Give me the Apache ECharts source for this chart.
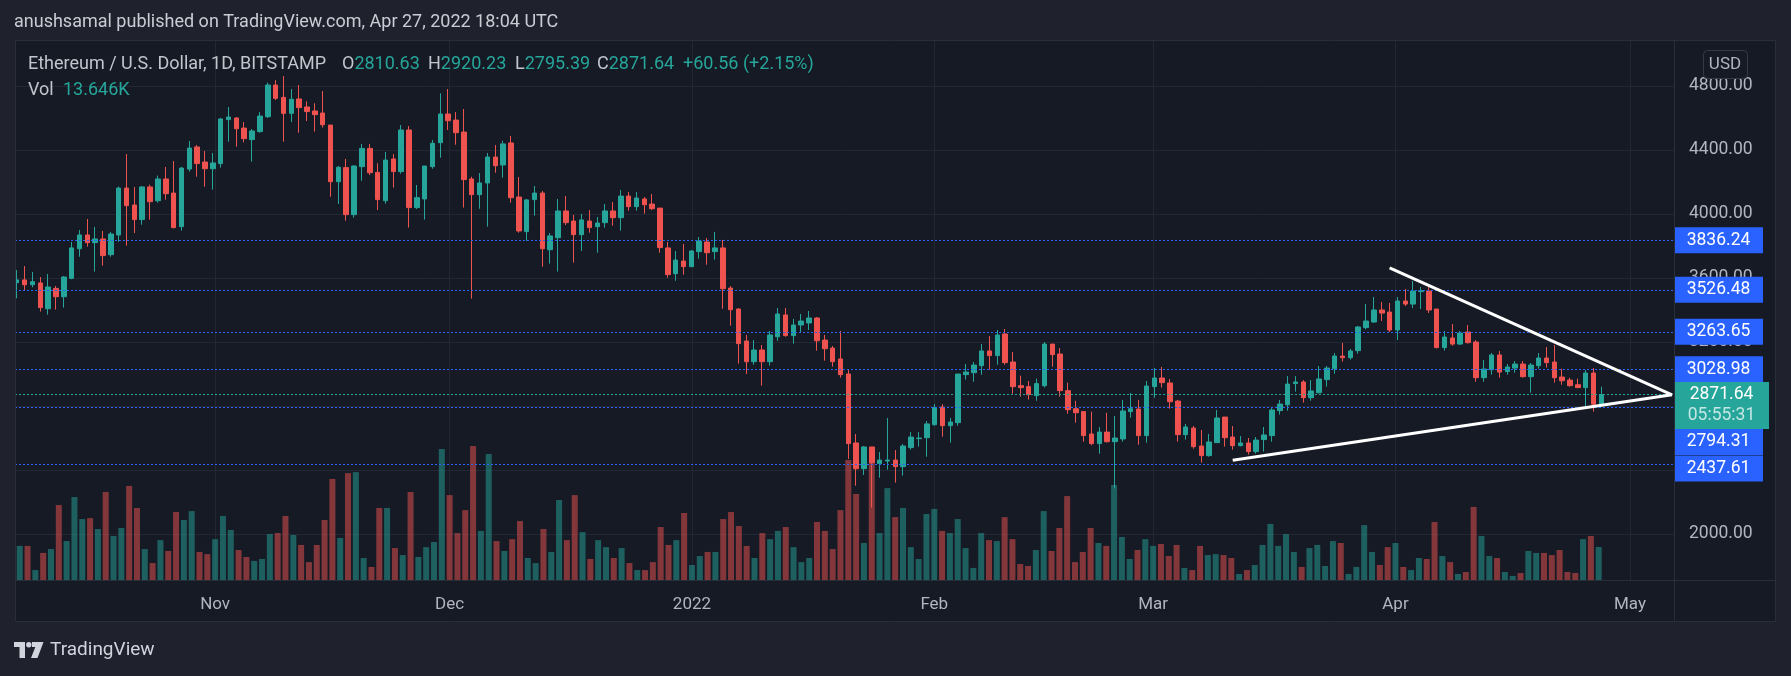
<!DOCTYPE html>
<html><head><meta charset="utf-8">
<script src="https://cdn.jsdelivr.net/npm/echarts@6/dist/echarts.min.js"></script>
<style>html,body{margin:0;padding:0;background:#1f222d;}#c{width:1791px;height:676px;}</style>
</head><body><div id="c"></div>
<script>
// ---------- DATA ----------
const startDate = '2021-10-07';
const opens = [3571,3588,3558,3569,3408,3535,3483,3598,3783,3869,3821,3844,3746,3869,4162,4056,3965,4169,4083,4219,4131,3921,4281,4419,4325,
4283,4315,4590,4600,4537,4465,4515,4608,4806,4729,4629,4719,4669,4644,4631,4556,4202,4290,3996,4296,4410,4260,4083,4344,4265,4525,4040,4094,4296,4446,
4625,4587,4512,4219,4121,4194,4356,4306,4444,4106,3890,4090,4131,3777,3852,4019,3956,3871,3956,3921,3946,4019,3977,4112,4046,4094,4062,4037,3788,3627,3706,
3671,3765,3825,3765,3788,3537,3406,3206,3077,3150,3077,3233,3369,3240,3306,3319,3350,3212,3162,3094,3000,2569,2408,2544,2440,2456,2462,2421,2540,2596,2602,
2683,2794,2677,2696,2996,3008,3052,3144,3115,3250,3075,2927,2921,2865,2927,3187,3125,2896,2783,2765,2625,2565,2637,2577,2594,2765,2781,2615,
2921,2975,2944,2831,2621,2662,2550,2490,2571,2731,2606,2552,2569,2515,2590,2615,2771,2808,2940,2950,2852,2883,2965,3033,3112,3102,3146,3290,3325,3400,3387,
3275,3456,3437,3515,3519,3406,3165,3225,3187,3262,3200,2977,3027,3119,3015,3037,3062,2983,3052,3100,3075,2981,2962,2933,2915,3006,2810.63];
const highs = [3650,3675,3638,3606,3625,3550,3612,3825,3900,3969,3919,3894,3888,4171,4375,4169,4175,4183,4240,4294,4331,4294,4456,4431,4394,
4381,4600,4669,4606,4575,4531,4637,4821,4837,4862,4781,4806,4704,4692,4769,4556,4300,4344,4304,4438,4438,4317,4388,4375,4556,4550,4181,4300,4463,4754,
4781,4637,4656,4233,4256,4381,4431,4458,4488,4231,4094,4175,4144,3881,4094,4113,3994,4000,4025,3981,4062,4075,4150,4137,4137,4106,4125,4037,3825,3769,3813,
3775,3856,3850,3888,3838,3550,3412,3244,3212,3181,3269,3412,3412,3344,3375,3394,3356,3244,3175,3269,3031,2625,2550,2544,2512,2725,2525,2562,2637,2637,2706,
2812,2812,2725,3000,3062,3075,3187,3237,3275,3281,3137,2990,2956,2971,3200,3187,3162,2946,2833,2765,2765,2669,2758,2737,2838,2881,2838,2956,
3037,3044,2969,2838,2688,2675,2650,2625,2775,2731,2675,2612,2600,2606,2669,2794,2838,2987,2987,2962,2962,3050,3050,3131,3194,3156,3300,3437,3481,3450,3444,
3481,3531,3581,3544,3544,3406,3269,3312,3269,3306,3212,3087,3131,3144,3062,3081,3081,3069,3131,3169,3181,3033,2977,2971,3025,3037,2920.23];
const lows = [3473,3525,3542,3390,3371,3402,3415,3592,3733,3796,3640,3677,3733,3827,3802,3881,3933,3965,4071,4090,3910,3896,4265,4233,4171,
4152,4290,4452,4421,4448,4327,4508,4600,4712,4452,4575,4508,4581,4515,4540,4108,4062,3958,3977,4208,4244,4025,4065,4165,4252,3915,4031,3965,4283,4352,
4525,4433,4040,3471,4033,3921,4258,4227,4071,3883,3833,3990,3671,3690,3640,3931,3696,3769,3883,3758,3915,3927,3896,4021,4021,4002,4025,3758,3602,3583,3621,
3669,3721,3683,3715,3408,3302,3065,3000,3058,2927,3052,3208,3233,3190,3262,3275,3146,3083,3046,2977,2469,2302,2369,2165,2352,2402,2321,2365,2527,2546,2483,
2677,2608,2571,2677,2965,2952,2996,3027,3058,3058,2877,2858,2840,2833,2915,3046,2858,2752,2696,2577,2555,2502,2572,2285,2577,2727,2558,2571,
2852,2915,2783,2577,2590,2533,2446,2483,2571,2546,2527,2548,2496,2502,2515,2577,2746,2771,2890,2821,2833,2878,2921,3002,3077,3090,3127,3279,3320,3331,3262,
3212,3425,3412,3406,3381,3160,3146,3177,3181,3190,2952,2952,2996,2977,2996,3008,2978,2883,3033,3040,2946,2933,2921,2912,2796,2765,2795.39];
const closes = [3588,3558,3577,3415,3544,3483,3606,3788,3869,3821,3844,3740,3875,4162,4052,3965,4169,4077,4219,4127,3915,4287,4412,4315,4283,
4319,4594,4606,4533,4471,4519,4612,4806,4723,4629,4717,4665,4640,4621,4558,4202,4292,3996,4300,4410,4258,4090,4337,4265,4525,4040,4102,4300,4442,4625,
4583,4508,4215,4121,4194,4356,4302,4438,4102,3894,4088,4131,3783,3863,4019,3946,3871,3963,3915,3944,4019,3977,4112,4046,4100,4058,4033,3790,3621,3712,3671,
3769,3831,3758,3788,3533,3402,3190,3077,3150,3077,3244,3375,3240,3306,3331,3350,3208,3158,3077,2996,2565,2408,2544,2446,2462,2462,2421,2550,2606,2600,2688,
2790,2677,2700,3000,3012,3056,3144,3115,3244,3071,2921,2915,2871,2940,3187,3121,2896,2777,2758,2615,2565,2637,2577,2600,2769,2783,2615,2925,
2975,2946,2827,2621,2669,2546,2490,2575,2725,2602,2552,2569,2515,2587,2619,2775,2812,2937,2950,2852,2894,2969,3037,3112,3102,3144,3294,3331,3400,3381,3275,
3456,3437,3519,3521,3400,3165,3231,3187,3256,3196,2977,3031,3119,3012,3044,3062,2983,3056,3100,3071,2977,2958,2927,2915,3006,2811.08,2871.64];
const volumes = [14.1,14.1,4.1,11.2,12.8,31.0,16.1,34.3,25.2,25.6,21.1,36.4,18.2,21.5,38.9,29.8,12.8,7.0,16.5,12.0,28.1,24.8,28.5,11.6,10.7,
16.9,26.5,20.7,12.4,9.5,7.9,8.7,19.0,19.4,26.5,18.6,14.5,7.4,14.5,24.8,41.8,17.4,44.2,44.6,9.1,5.4,29.8,29.8,13.2,10.3,36.4,9.5,13.6,15.7,54.2,
35.1,19.4,28.9,55.4,20.3,52.1,16.1,12.0,16.9,24.4,9.1,7.0,21.1,11.6,33.1,16.5,35.1,19.8,8.7,16.5,13.6,9.1,13.2,7.0,4.1,4.1,7.4,21.9,14.5,16.5,27.7,
6.2,9.9,11.6,11.6,25.2,28.1,22.3,14.1,9.1,19.4,16.9,20.3,21.9,13.6,7.4,9.1,24.0,20.3,12.8,28.9,49.6,35.6,15.3,48.8,19.4,38.0,26.0,29.8,13.6,8.7,27.3,
29.4,20.3,19.4,25.2,13.2,5.0,19.4,16.5,16.1,26.0,16.9,6.6,5.8,12.4,28.5,12.0,21.5,34.7,7.4,11.6,21.5,15.3,14.1,39.3,17.8,8.7,12.4,16.9,
14.1,14.9,9.9,14.5,5.0,4.1,14.1,10.3,10.7,10.3,9.1,2.5,4.1,6.2,14.5,23.2,14.1,19.0,11.6,5.4,13.2,14.5,5.8,16.1,15.3,2.5,5.4,22.7,11.6,6.2,13.6,
15.3,5.4,4.1,9.1,8.7,24.0,9.9,7.4,2.5,3.3,30.2,18.2,9.9,9.1,3.3,1.7,2.9,12.0,11.2,11.2,10.3,12.4,3.3,2.9,16.9,18.2,13.646];
const priceLevels = [3836.24, 3526.48, 3263.65, 3028.98, 2794.31, 2437.61];
const trendUpper = [['2022-03-31', 3664], ['2022-05-06', 2870]];
const trendLower = [['2022-03-11', 2461], ['2022-05-06', 2870]];
const monthNames = ['Jan','Feb','Mar','Apr','May','Jun','Jul','Aug','Sep','Oct','Nov','Dec'];
const countdown = '05:55:31';
const headerText = 'anushsamal published on TradingView.com, Apr 27, 2022 18:04 UTC';
const symbolText = 'Ethereum / U.S. Dollar, 1D, BITSTAMP';

// ---------- STYLE / LAYOUT ----------
const UP = '#26a69a', DOWN = '#ef5350', BLUE = '#2962ff';
const FONT = 'Roboto, "Noto Sans", sans-serif';
const labelShift = [0, 0, 0, 0, 35, 4.5];
const DAY = 86400000;
const t0 = Date.parse(startDate + 'T00:00:00Z');
const xMin = t0 - 0.22 * DAY, xMax = t0 + 211.25 * DAY;
const toT = d => Date.parse(d + 'T00:00:00Z');
const last = closes.length - 1;

const candleData = opens.map((o, i) => [t0 + i * DAY, o, closes[i], lows[i], highs[i]]);
const volData = volumes.map((v, i) => ({
  value: [t0 + i * DAY, v],
  itemStyle: { color: closes[i] >= opens[i] ? 'rgba(38,166,154,0.5)' : 'rgba(239,83,80,0.5)' }
}));

const chg = closes[last] - closes[last - 1];
const pct = chg / closes[last - 1] * 100;
const sgn = v => (v >= 0 ? '+' : '') + v.toFixed(2);

const chart = echarts.init(document.getElementById('c'), null, { renderer: 'canvas' });

const txt = (x, y, text, fill, size, extra) => Object.assign({
  type: 'text', x: x, y: y, z: 100,
  style: Object.assign({ text: text, fill: fill, fontSize: size, fontFamily: FONT, verticalAlign: 'middle', textVerticalAlign: 'middle' }, extra || {})
}, {});
const richTxt = (x, y, letter, val) => ({
  type: 'text', x: x, y: y, z: 100,
  style: {
    text: letter + '{v|' + val + '}', fill: '#c2c5cc', fontSize: 18, fontFamily: FONT,
    verticalAlign: 'middle', textVerticalAlign: 'middle',
    rich: { v: { fill: UP, fontSize: 18, fontFamily: FONT } }
  }
});

const option = {
  animation: false,
  useUTC: true,
  backgroundColor: '#161a25',
  textStyle: { fontFamily: FONT },
  grid: [
    { left: 15, right: 117, top: 86, bottom: 142 },
    { left: 15, right: 117, top: 40, bottom: 96 }
  ],
  xAxis: [
    { type: 'time', gridIndex: 0, min: xMin, max: xMax, show: false },
    { type: 'time', gridIndex: 1, min: xMin, max: xMax, splitNumber: 7,
      minInterval: 28 * DAY, maxInterval: 31 * DAY,
      axisLine: { show: false }, axisTick: { show: false },
      axisLabel: { color: '#b2b5be', fontSize: 17, margin: 16, showMinLabel: false, showMaxLabel: false,
        formatter: v => { const d = new Date(v); return d.getUTCMonth() === 0 ? String(d.getUTCFullYear()) : monthNames[d.getUTCMonth()]; } },
      splitLine: { show: true, lineStyle: { color: '#232733', width: 1 } } }
  ],
  yAxis: [
    { type: 'value', gridIndex: 0, position: 'right', min: 2000, max: 4800, interval: 400, scale: false,
      axisLine: { show: false }, axisTick: { show: false },
      axisLabel: { color: '#b2b5be', fontSize: 17.5, margin: 15, formatter: v => v.toFixed(2) },
      splitLine: { show: true, lineStyle: { color: '#232733', width: 1 } } },
    { type: 'value', gridIndex: 1, min: 0, max: 223.3, show: false }
  ],
  series: [
    { type: 'bar', name: 'Vol', xAxisIndex: 1, yAxisIndex: 1, data: volData, barWidth: 6, z: 1, silent: true },
    { type: 'candlestick', name: 'ETHUSD', xAxisIndex: 0, yAxisIndex: 0, z: 3, clip: false,
      dimensions: ['date', 'open', 'close', 'lowest', 'highest'],
      encode: { x: 'date', y: ['open', 'close', 'lowest', 'highest'] },
      data: candleData, barWidth: 5,
      itemStyle: { color: UP, color0: DOWN, borderColor: UP, borderColor0: DOWN, borderWidth: 1 },
      markLine: {
        silent: true, symbol: ['none', 'none'], animation: false, label: { show: false },
        data: priceLevels.map(p => ({ yAxis: p, lineStyle: { color: BLUE, type: [2, 2], width: 1 } }))
          .concat([{ yAxis: closes[last], lineStyle: { color: UP, type: [2, 2], width: 1 } }])
      },
      markPoint: {
        silent: true, animation: false, z: 10,
        data: priceLevels.map((p, i) => ({
          coord: [xMax, p], value: p,
          symbol: 'rect', symbolSize: [89, 26], symbolOffset: [44.5, labelShift[i]],
          itemStyle: { color: BLUE },
          label: { show: true, position: 'inside', formatter: () => p.toFixed(2), color: '#ffffff', fontSize: 17.5, fontFamily: FONT }
        })).concat([{
          coord: [xMax, closes[last]], value: closes[last],
          symbol: 'rect', symbolSize: [95, 47], symbolOffset: [47.5, 11],
          itemStyle: { color: UP },
          label: { show: true, position: 'inside',
            formatter: () => '{a|' + closes[last].toFixed(2) + '}\n{b|' + countdown + '}',
            rich: { a: { color: '#ffffff', fontSize: 17.5, lineHeight: 21, fontFamily: FONT },
                    b: { color: 'rgba(255,255,255,0.72)', fontSize: 17.5, lineHeight: 21, fontFamily: FONT } } }
        }])
      }
    },
    { type: 'line', xAxisIndex: 0, yAxisIndex: 0, z: 6, silent: true, showSymbol: false, symbol: 'none',
      data: trendUpper.map(d => [toT(d[0]), d[1]]), lineStyle: { color: '#ffffff', width: 3 } },
    { type: 'line', xAxisIndex: 0, yAxisIndex: 0, z: 6, silent: true, showSymbol: false, symbol: 'none',
      data: trendLower.map(d => [toT(d[0]), d[1]]), lineStyle: { color: '#ffffff', width: 3 } }
  ],
  graphic: [
    // outer page bands
    { type: 'rect', z: 50, shape: { x: 0, y: 0, width: 1791, height: 40 }, style: { fill: '#1f222d' } },
    { type: 'rect', z: 50, shape: { x: 0, y: 622, width: 1791, height: 54 }, style: { fill: '#1f222d' } },
    { type: 'rect', z: 50, shape: { x: 0, y: 0, width: 15, height: 676 }, style: { fill: '#1f222d' } },
    { type: 'rect', z: 50, shape: { x: 1776, y: 0, width: 15, height: 676 }, style: { fill: '#1f222d' } },
    { type: 'rect', z: 51, shape: { x: 15.5, y: 40.5, width: 1760, height: 581 }, style: { fill: 'none', stroke: '#2a2e39', lineWidth: 1 } },
    { type: 'line', z: 51, shape: { x1: 1674.5, y1: 40, x2: 1674.5, y2: 622 }, style: { stroke: '#2a2e39', lineWidth: 1 } },
    { type: 'line', z: 51, shape: { x1: 15, y1: 580.5, x2: 1776, y2: 580.5 }, style: { stroke: '#2a2e39', lineWidth: 1 } },
    // header
    txt(14, 22, headerText, '#c9ccd3', 18),
    txt(28, 64, symbolText, '#c2c5cc', 18),
    richTxt(342, 64, 'O', opens[last].toFixed(2)),
    richTxt(428, 64, 'H', highs[last].toFixed(2)),
    richTxt(515, 64, 'L', lows[last].toFixed(2)),
    richTxt(597, 64, 'C', closes[last].toFixed(2)),
    txt(683, 64, sgn(chg) + ' (' + sgn(pct) + '%)', UP, 18),
    txt(28, 90, 'Vol', '#c2c5cc', 18),
    txt(63, 90, volumes[last].toFixed(3) + 'K', UP, 18),
    // USD box
    { type: 'rect', z: 60, shape: { x: 1703.5, y: 50.5, width: 44, height: 28, r: 4 }, style: { fill: '#161a25', stroke: '#363a45', lineWidth: 1 } },
    txt(1725, 64.5, 'USD', '#b2b5be', 17, { align: 'center', textAlign: 'center' }),
    // footer logo
    { type: 'polygon', z: 60, shape: { points: [[14, 642], [25, 642], [25, 658], [19.5, 658], [19.5, 647], [14, 647]] }, style: { fill: '#d1d4dc' } },
    { type: 'circle', z: 60, shape: { cx: 28.8, cy: 644.7, r: 2.7 }, style: { fill: '#d1d4dc' } },
    { type: 'polygon', z: 60, shape: { points: [[32, 642], [43.5, 642], [37.5, 658], [31, 658], [35.3, 647], [32, 647]] }, style: { fill: '#d1d4dc' } },
    txt(50, 650, 'TradingView', '#d1d4dc', 19)
  ]
};
chart.setOption(option);
</script>
</body></html>
